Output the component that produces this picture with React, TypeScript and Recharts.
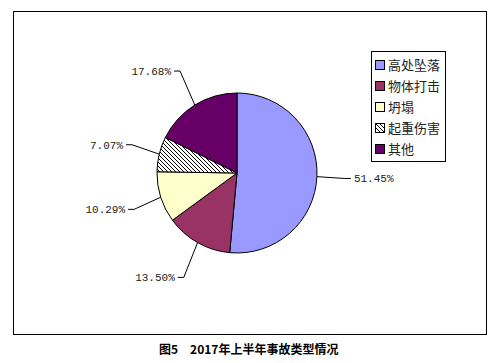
import React from 'react';
import { PieChart, Pie, Cell, Legend } from 'recharts';

const categories = ['高处坠落', '物体打击', '坍塌', '起重伤害', '其他'];
const shares = [51.45, 13.5, 10.29, 7.07, 17.68];
const colors = ['#9999FF', '#993366', '#FFFFCC', 'url(#hatch)', '#660066'];
const titleFig = '图5';
const titleText = '2017年上半年事故类型情况';

const data = categories.map((name, i) => ({ name, value: shares[i] }));
const RADIAN = Math.PI / 180;

const renderLabel = (props: any) => {
  const { cx, cy, midAngle, outerRadius, value } = props;
  const cos = Math.cos(-midAngle * RADIAN);
  const sin = Math.sin(-midAngle * RADIAN);
  const sx = cx + outerRadius * cos;
  const sy = cy + outerRadius * sin;
  const ex = cx + (outerRadius + 28) * cos;
  const ey = cy + (outerRadius + 40) * sin;
  const right = cos >= 0;
  const hx = ex + (right ? 6 : -6);
  const tx = hx + (right ? 3 : -3);
  return (
    <g>
      <polyline points={`${sx},${sy} ${ex},${ey} ${hx},${ey}`} fill="none" stroke="#000" strokeWidth={1} />
      <text x={tx} y={ey} dy={4} textAnchor={right ? 'start' : 'end'} fontFamily="'Liberation Mono', monospace" fontSize={11} fill="#222">
        {value.toFixed(2)}%
      </text>
    </g>
  );
};

const Hatch = ({ id }: { id: string }) => (
  <pattern id={id} patternUnits="userSpaceOnUse" width={4} height={4}>
    <rect width={4} height={4} fill="#fff" />
    <path d="M-1,3 L1,5 M-1,-1 L5,5 M3,-1 L5,1" stroke="#000" strokeWidth={1} />
  </pattern>
);

const LegendContent = () => (
  <div style={{ border: '1px solid #000', width: 73, height: 107, paddingTop: 2, background: '#fff', boxSizing: 'content-box' }}>
    {categories.map((c, i) => (
      <div key={c} style={{ display: 'flex', alignItems: 'center', height: 21 }}>
        <svg width={10} height={10} style={{ marginLeft: 3, marginRight: 3 }}>
          <defs>
            <Hatch id={`lh${i}`} />
          </defs>
          <rect x={0.5} y={0.5} width={9} height={9} fill={i === 3 ? `url(#lh${i})` : colors[i]} stroke="#000" strokeWidth={1} />
        </svg>
        <span style={{ fontFamily: "'Noto Sans CJK SC', sans-serif", fontSize: 13, color: '#222', lineHeight: '21px' }}>{c}</span>
      </div>
    ))}
  </div>
);

export default function App() {
  return (
    <div style={{ position: 'absolute', left: 0, top: 0, width: 497, height: 363, background: '#fff' }}>
      <div style={{ position: 'absolute', left: 13, top: 11, width: 472, height: 322, border: '1px solid #000' }} />
      <div style={{ position: 'absolute', left: 0, top: 0 }}>
        <PieChart width={497} height={363} margin={{ top: 0, right: 0, bottom: 0, left: 0 }}>
          <defs>
            <Hatch id="hatch" />
          </defs>
          <Pie
            data={data}
            dataKey="value"
            nameKey="name"
            cx={237}
            cy={173}
            outerRadius={80}
            startAngle={90}
            endAngle={-270}
            stroke="#000"
            strokeWidth={1}
            label={renderLabel}
            labelLine={false}
            isAnimationActive={false}
          >
            {data.map((d, i) => (
              <Cell key={d.name} fill={colors[i]} />
            ))}
          </Pie>
          <Legend content={<LegendContent />} layout="vertical" verticalAlign="top" align="right" wrapperStyle={{ left: 371, top: 51, width: 75 }} />
        </PieChart>
      </div>
      <div style={{ position: 'absolute', left: 159, top: 340, whiteSpace: 'nowrap', fontFamily: "'Noto Sans CJK SC', sans-serif", fontWeight: 'bold', fontSize: 12, color: '#000', lineHeight: '18px' }}>
        <span>{titleFig}</span>
        <span style={{ marginLeft: 12 }}>{titleText}</span>
      </div>
    </div>
  );
}
